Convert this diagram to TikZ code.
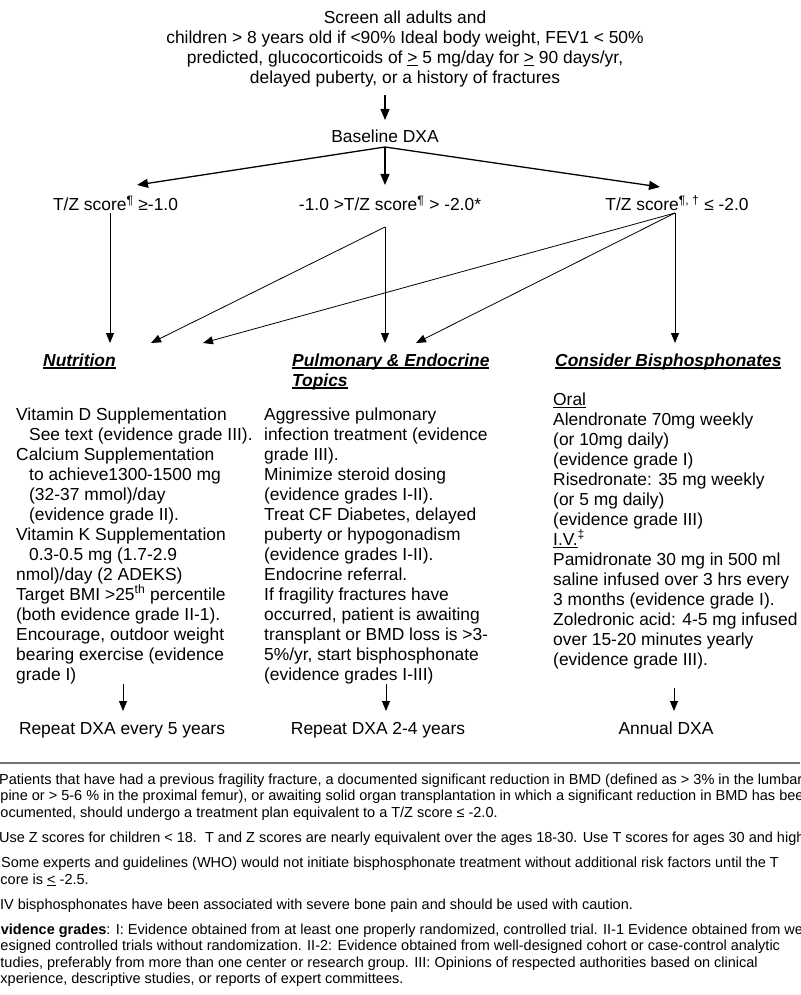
\documentclass[tikz,border=0pt]{standalone}
\usepackage{fontspec}
\setmainfont{Liberation Sans}
\usetikzlibrary{arrows.meta}

% underlines drawn as rules below the baseline
\newcommand{\thickul}[1]{\leavevmode\setbox0\hbox{#1}\rlap{\vrule height -1.4pt depth 3.2pt width \wd0}\box0}
\newcommand{\thinul}[1]{\leavevmode\setbox0\hbox{#1}\rlap{\vrule height -1.6pt depth 2.5pt width \wd0}\box0}

\begin{document}
\begin{tikzpicture}[x=1pt,y=-1pt,
    txt/.style={inner sep=0pt, font=\fontsize{17.4}{20}\selectfont},
    col/.style={txt, align=left, anchor=base west},
    head/.style={txt, align=left, anchor=base west, font=\fontsize{17.4}{20}\selectfont\bfseries\itshape},
    foot/.style={inner sep=0pt, anchor=base west, font=\fontsize{14.5}{16.5}\selectfont},
    arr/.style={-{Triangle[length=10pt,width=8pt]}, line width=0.8pt},
    bigarr/.style={-{Triangle[length=11pt,width=9pt]}, line width=1.3pt}]
  \useasboundingbox (0,0) rectangle (800,995);
  \fill [white] (0,0) rectangle (800,995);

  % screening criteria (base = last line)
  \node [txt, align=center, anchor=base] (screen) at (405,84) {Screen all adults and\\children > 8 years old if <90\% Ideal body weight, FEV1 < 50\%\\predicted, glucocorticoids of \underline{>} 5 mg/day for \underline{>} 90 days/yr,\\delayed puberty, or a history of fractures};
  \node [txt, anchor=base] (baseline) at (385,143) {Baseline DXA};

  % score classes
  \node [txt, anchor=base] (tzhigh) at (115.5,211) {T/Z score\textsuperscript{¶} ≥-1.0};
  \node [txt, anchor=base] (tzmid) at (390,211) {-1.0 >T/Z score\textsuperscript{¶} > -2.0*};
  \node [txt, anchor=base] (tzlow) at (677,211) {T/Z score\textsuperscript{¶, †} ≤ -2.0};

  % headings
  \node [head] (nutrition) at (43,366) {\thickul{Nutrition}};
  \node [head] (pulmonary) at (292,386) {\thickul{Pulmonary \& Endocrine}\\\thickul{Topics}};
  \node [head] (bisphos) at (555,366) {\thickul{Consider Bisphosphonates}};

  % column texts (base = last line)
  \node [col] (nutText) at (16,680) {Vitamin D Supplementation\\
    \hspace*{13pt}See text (evidence grade III).\\
    Calcium Supplementation\\
    \hspace*{13pt}to achieve1300-1500 mg\\
    \hspace*{13pt}(32-37 mmol)/day\\
    \hspace*{13pt}(evidence grade II).\\
    Vitamin K Supplementation\\
    \hspace*{13pt}0.3-0.5 mg (1.7-2.9\\
    nmol)/day (2 ADEKS)\\
    Target BMI >25\textsuperscript{th} percentile\\
    (both evidence grade II-1).\\
    Encourage, outdoor weight\\
    bearing exercise (evidence\\
    grade I)};
  \node [col] (pulText) at (264,680) {Aggressive pulmonary\\
    infection treatment (evidence\\
    grade III).\\
    Minimize steroid dosing\\
    (evidence grades I-II).\\
    Treat CF Diabetes, delayed\\
    puberty or hypogonadism\\
    (evidence grades I-II).\\
    Endocrine referral.\\
    If fragility fractures have\\
    occurred, patient is awaiting\\
    transplant or BMD loss is >3-\\
    5\%/yr, start bisphosphonate\\
    (evidence grades I-III)};
  \node [col] (bisText) at (553,665) {\thinul{Oral}\\
    Alendronate 70mg weekly\\
    (or 10mg daily)\\
    (evidence grade I)\\
    Risedronate: 35 mg weekly\\
    (or 5 mg daily)\\
    (evidence grade III)\\
    \thinul{I.V.} \textsuperscript{‡}\\
    Pamidronate 30 mg in 500 ml\\
    saline infused over 3 hrs every\\
    3 months (evidence grade I).\\
    Zoledronic acid: 4-5 mg infused\\
    over 15-20 minutes yearly\\
    (evidence grade III).};

  % follow-up
  \node [txt, anchor=base] (nutNext) at (122,734) {Repeat DXA every 5 years};
  \node [txt, anchor=base] (pulNext) at (378,734) {Repeat DXA 2-4 years};
  \node [txt, anchor=base] (bisNext) at (666,734) {Annual DXA};

  % arrow ends
  \coordinate (screenOut) at (385,95);
  \coordinate (baseIn) at (385,120);
  \coordinate (split) at (385,147);
  \coordinate (highIn) at (137,185);
  \coordinate (midIn) at (385,185);
  \coordinate (lowIn) at (660,187);
  \coordinate (highOut) at (110,213);
  \coordinate (midOut) at (385,227);
  \coordinate (lowOut) at (675,213);
  \coordinate (nutInA) at (110,343);
  \coordinate (nutInB) at (151,343);
  \coordinate (nutInC) at (203,343);
  \coordinate (pulInA) at (385,343);
  \coordinate (pulInB) at (416,343);
  \coordinate (bisIn) at (675,343);
  \coordinate (nutOut) at (123,684);
  \coordinate (pulOut) at (386,684);
  \coordinate (bisOut) at (674,688);
  \coordinate (nutEnd) at (123,711);
  \coordinate (pulEnd) at (386,711);
  \coordinate (bisEnd) at (674,711);

  \draw [bigarr] (screenOut) -- (baseIn);
  \draw [bigarr] (split) -- (highIn);
  \draw [bigarr] (split) -- (midIn);
  \draw [bigarr] (split) -- (lowIn);

  \draw [arr] (highOut) -- (nutInA);
  \draw [arr] (midOut) -- (nutInB);
  \draw [arr] (midOut) -- (pulInA);
  \draw [arr] (lowOut) -- (nutInC);
  \draw [arr] (lowOut) -- (pulInB);
  \draw [arr] (lowOut) -- (bisIn);

  \draw [arr] (nutOut) -- (nutEnd);
  \draw [arr] (pulOut) -- (pulEnd);
  \draw [arr] (bisOut) -- (bisEnd);

  % footnotes
  \draw [line width=2pt, black!55] (0,763) -- (800,763);
  \begin{scope}
    \clip (0,0) rectangle (800,995);
    \node [foot] (fnA1) at (-1,784) {Patients that have had a previous fragility fracture, a documented significant reduction in BMD (defined as > 3\% in the lumbar};
    \node [foot] (fnA2) at (-7,800.5) {spine or > 5-6 \% in the proximal femur), or awaiting solid organ transplantation in which a significant reduction in BMD has been};
    \node [foot] (fnA3) at (-7.8,817) {documented, should undergo a treatment plan equivalent to a T/Z score ≤ -2.0.};
    \node [foot] (fnB1) at (-1,842) {Use Z scores for children < 18.\ \ T and Z scores are nearly equivalent over the ages 18-30. Use T scores for ages 30 and higher.};
    \node [foot] (fnC1) at (1,867.5) {Some experts and guidelines (WHO) would not initiate bisphosphonate treatment without additional risk factors until the T};
    \node [foot] (fnC2) at (-7,884) {score is \underline{<} -2.5.};
    \node [foot] (fnD1) at (0,909) {IV bisphosphonates have been associated with severe bone pain and should be used with caution.};
    \node [foot] (fnE1) at (-9,934) {\textbf{Evidence grades}: I: Evidence obtained from at least one properly randomized, controlled trial. II-1 Evidence obtained from well-};
    \node [foot] (fnE2) at (-7.8,950.5) {designed controlled trials without randomization. II-2: Evidence obtained from well-designed cohort or case-control analytic};
    \node [foot] (fnE3) at (-7,967) {studies, preferably from more than one center or research group. III: Opinions of respected authorities based on clinical};
    \node [foot] (fnE4) at (-7.8,983.5) {experience, descriptive studies, or reports of expert committees.};
  \end{scope}
\end{tikzpicture}
\end{document}
